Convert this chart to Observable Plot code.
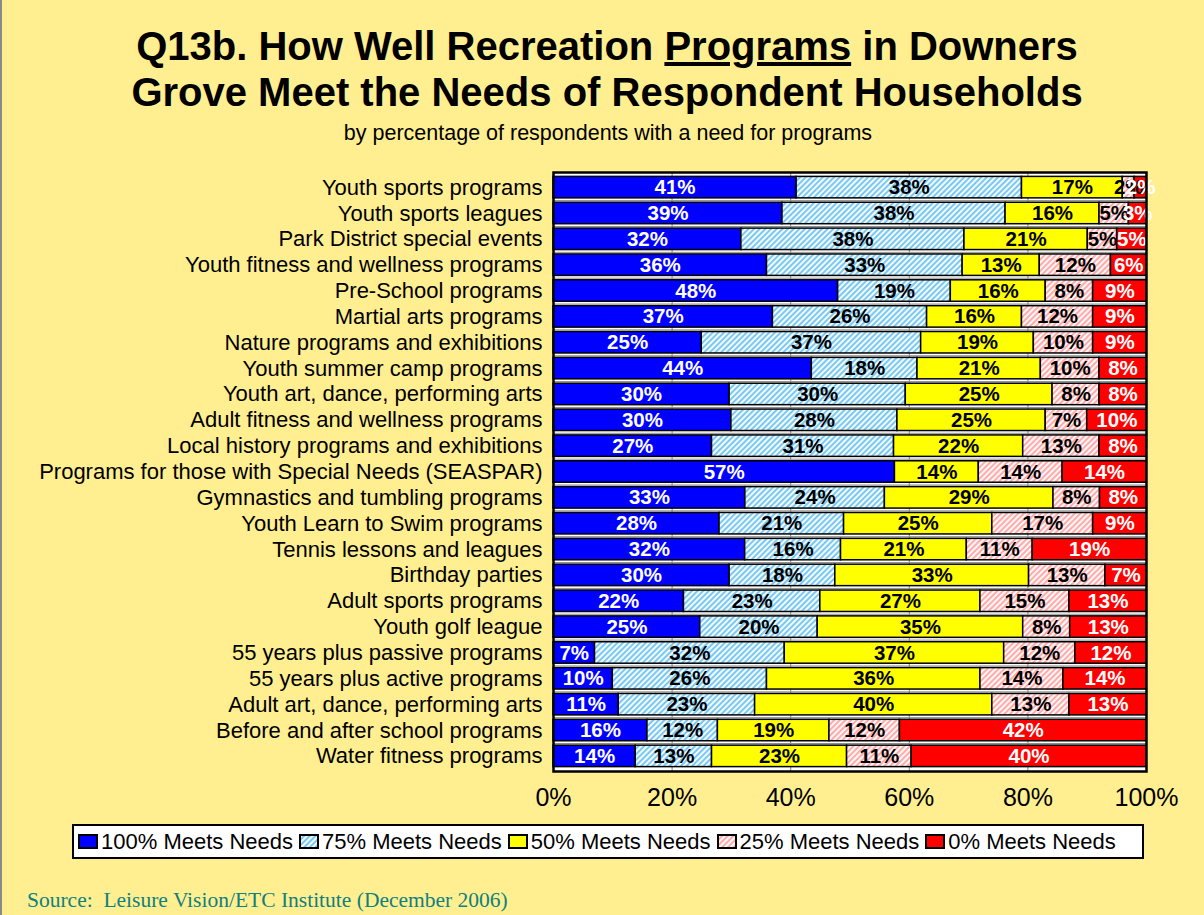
<!DOCTYPE html>
<html><head><meta charset="utf-8">
<script src="https://cdn.jsdelivr.net/npm/d3@7"></script>
<script src="https://cdn.jsdelivr.net/npm/@observablehq/plot@0.6"></script>
<style>
html,body{margin:0;padding:0;}
body{background:#FFEF90;width:1204px;height:915px;overflow:hidden;position:relative;font-family:"Liberation Sans",Arial,sans-serif;color:#000;}
#edge{position:absolute;left:0;top:0;width:2px;height:915px;background:#8a8a8a;}
.title{position:absolute;left:5px;width:1204px;text-align:center;font-weight:bold;font-size:40px;line-height:46px;white-space:nowrap;}
#subtitle{position:absolute;left:6px;width:1204px;text-align:center;font-size:21.5px;top:121px;white-space:nowrap;}
#chart{position:absolute;left:0;top:150px;}
#legend{position:absolute;left:72px;top:824px;width:1064px;height:31px;border:2px solid #000;background:#fff;display:flex;align-items:center;padding-left:4px;font-size:22px;white-space:nowrap;box-sizing:content-box;}
#legend .item{display:flex;align-items:center;margin-right:6px;}
#legend svg{margin-right:3px;}
#source{position:absolute;left:27px;top:888px;font-family:"Liberation Serif","Times New Roman",serif;font-size:21.5px;color:#0F7F80;white-space:pre;}
</style></head><body>
<div id="edge"></div>
<svg width="0" height="0" style="position:absolute">
<defs>
<pattern id="hatch75" patternUnits="userSpaceOnUse" width="4" height="4" patternTransform="rotate(45)">
<rect width="4" height="4" fill="#F2FAFF"/><line x1="1" y1="0" x2="1" y2="4" stroke="#5DBDF0" stroke-width="1.6"/>
</pattern>
<pattern id="hatch25" patternUnits="userSpaceOnUse" width="4" height="4" patternTransform="rotate(45)">
<rect width="4" height="4" fill="#FFF6F6"/><line x1="1" y1="0" x2="1" y2="4" stroke="#FF8C8C" stroke-width="1.4"/>
</pattern>
</defs>
</svg>
<div class="title" style="top:23px">Q13b. How Well Recreation <u>Programs</u> in Downers</div>
<div class="title" style="top:69px">Grove Meet the Needs of Respondent Households</div>
<div id="subtitle">by percentage of respondents with a need for programs</div>
<div id="chart"></div>
<div id="legend"></div>
<div id="source">Source:  Leisure Vision/ETC Institute (December 2006)</div>
<script>
const programs = [
  "Youth sports programs",
  "Youth sports leagues",
  "Park District special events",
  "Youth fitness and wellness programs",
  "Pre-School programs",
  "Martial arts programs",
  "Nature programs and exhibitions",
  "Youth summer camp programs",
  "Youth art, dance, performing arts",
  "Adult fitness and wellness programs",
  "Local history programs and exhibitions",
  "Programs for those with Special Needs (SEASPAR)",
  "Gymnastics and tumbling programs",
  "Youth Learn to Swim programs",
  "Tennis lessons and leagues",
  "Birthday parties",
  "Adult sports programs",
  "Youth golf league",
  "55 years plus passive programs",
  "55 years plus active programs",
  "Adult art, dance, performing arts",
  "Before and after school programs",
  "Water fitness programs"
];
const levels = ["100% Meets Needs", "75% Meets Needs", "50% Meets Needs", "25% Meets Needs", "0% Meets Needs"];
const meets100 = [41, 39, 32, 36, 48, 37, 25, 44, 30, 30, 27, 57, 33, 28, 32, 30, 22, 25, 7, 10, 11, 16, 14];
const meets75  = [38, 38, 38, 33, 19, 26, 37, 18, 30, 28, 31, 0, 24, 21, 16, 18, 23, 20, 32, 26, 23, 12, 13];
const meets50  = [17, 16, 21, 13, 16, 16, 19, 21, 25, 25, 22, 14, 29, 25, 21, 33, 27, 35, 37, 36, 40, 19, 23];
const meets25  = [2, 5, 5, 12, 8, 12, 10, 10, 8, 7, 13, 14, 8, 17, 11, 13, 15, 8, 12, 14, 13, 12, 11];
const meets0   = [2, 3, 5, 6, 9, 9, 9, 8, 8, 10, 8, 14, 8, 9, 19, 7, 13, 13, 12, 14, 13, 42, 40];
const xTicks = [0, 0.2, 0.4, 0.6, 0.8, 1];

const fills = ["#0000FF", "url(#hatch75)", "#FFFF00", "url(#hatch25)", "#FF0000"];
const whiteText = new Set(["100% Meets Needs", "0% Meets Needs"]);
const series = [meets100, meets75, meets50, meets25, meets0];
const data = programs.flatMap((p, i) => levels.map((l, j) => ({program: p, level: l, value: series[j][i]})));

const stack = o => Plot.stackX({x: "value", y: "program", z: "level", offset: "normalize", ...o});

const chart = Plot.plot({
  width: 1204, height: 660,
  marginLeft: 553, marginRight: 58, marginTop: 22, marginBottom: 39,
  style: {background: "transparent", fontFamily: "Liberation Sans, Arial, sans-serif", color: "#000", overflow: "visible"},
  x: {domain: [0, 1], ticks: xTicks, tickFormat: d3.format(".0%"), label: null},
  y: {domain: programs, padding: 0.17, round: false, label: null},
  color: {domain: levels, range: fills},
  marks: [
    Plot.frame({fill: "white", stroke: null}),
    Plot.gridX(xTicks, {stroke: "#808080", strokeOpacity: 1}),
    Plot.ruleY(programs.slice(0, -1), {dy: 13, stroke: "#8c8c8c", strokeWidth: 1}),
    Plot.barX(data, stack({fill: "level", stroke: "#000", strokeWidth: 1.5})),
    Plot.text(data, stack({text: d => (!whiteText.has(d.level) && d.value > 0) ? d.value + "%" : null, fill: "#000", fontWeight: "bold", fontSize: 20.5})),
    Plot.text(data, stack({text: d => (whiteText.has(d.level) && d.value > 0) ? d.value + "%" : null, fill: "#fff", fontWeight: "bold", fontSize: 20.5})),
    Plot.frame({stroke: "#000", strokeWidth: 2.5}),
    Plot.axisX(xTicks, {tickSize: 0, tickPadding: 17, fontSize: 25, tickFormat: d3.format(".0%")}),
    Plot.axisY({tickSize: 0, tickPadding: 11, fontSize: 22})
  ]
});
document.getElementById("chart").append(chart);

const legend = document.getElementById("legend");
levels.forEach((l, j) => {
  const item = document.createElement("div");
  item.className = "item";
  item.innerHTML = `<svg width="20" height="15"><rect x="1" y="1" width="18" height="13" fill="${fills[j]}" stroke="#000" stroke-width="2"/></svg><span>${l}</span>`;
  legend.append(item);
});
</script>
</body></html>
